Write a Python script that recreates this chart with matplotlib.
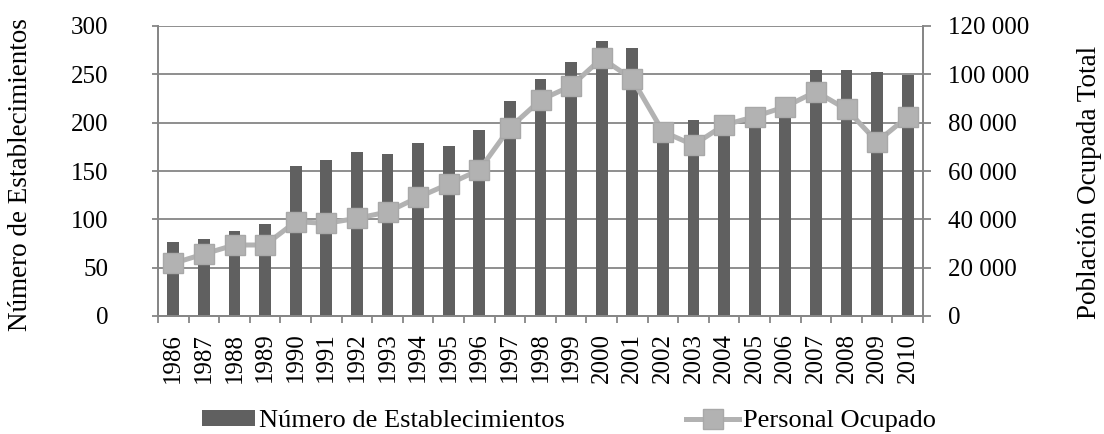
import matplotlib
matplotlib.use("Agg")
import matplotlib.pyplot as plt
from matplotlib.ticker import FuncFormatter, MultipleLocator
import numpy as np

plt.rcParams['font.family'] = ['Liberation Serif', 'DejaVu Serif']

years = [str(y) for y in range(1986, 2011)]
establecimientos = [77, 80, 88, 95, 155, 161, 170, 168, 179, 176, 192, 222, 245,
                    263, 284, 277, 189, 203, 200, 205, 215, 255, 255, 252, 249]
personal = [21800, 25650, 29380, 29380, 39030, 38350, 40420, 43030, 49100, 54620,
            60410, 77930, 89380, 95170, 106630, 98070, 76280, 70760, 79030, 82480,
            86620, 92830, 85520, 72140, 82480]

bar_col = '#606060'
line_col = '#b2b2b2'
axis_col = '#868686'

fig = plt.figure(figsize=(11.04, 4.34), dpi=100)
ax = fig.add_axes([158/1104, 1-316/434, (923-158)/1104, (316-26)/434])
x = np.arange(len(years))

ax.bar(x, establecimientos, width=0.39, color=bar_col, zorder=2,
       label='Número de Establecimientos')
ax.set_ylim(0, 300)
ax.set_xlim(-0.5, len(years) - 0.5)
ax.yaxis.set_major_locator(MultipleLocator(50))
ax.grid(axis='y', color=axis_col, linewidth=1.3, zorder=0)
ax.set_axisbelow(True)
ax.set_xticks(x)
ax.set_xticklabels(years, rotation=90)
ax.set_xticks(np.arange(-0.5, len(years)), minor=True)
ax.tick_params(axis='x', which='major', length=0, labelsize=18, pad=12)
ax.tick_params(axis='x', which='minor', length=5, color=axis_col, width=1.3)
ax.tick_params(axis='y', length=4.5, color=axis_col, width=1.3, labelsize=18, pad=31)
for s in ['left', 'bottom', 'right', 'top']:
    ax.spines[s].set_color(axis_col)
    ax.spines[s].set_linewidth(1.3)
ax.spines['top'].set_visible(False)
ax.set_ylabel('Número de Establecimientos', fontsize=19.5)
ax.yaxis.set_label_coords(-0.1634, 0.486)

ax2 = ax.twinx()
ax2.plot(x, personal, color=line_col, linewidth=3.6, marker='s', markersize=14,
         markerfacecolor=line_col, markeredgecolor='#a8a8a8', zorder=3,
         label='Personal Ocupado')
ax2.set_ylim(0, 120000)
ax2.yaxis.set_major_locator(MultipleLocator(20000))
ax2.yaxis.set_major_formatter(FuncFormatter(lambda v, p: f'{int(v):,}'.replace(',', ' ')))
ax2.tick_params(axis='y', length=6, color=axis_col, width=1.3, labelsize=18, pad=12)
for s in ['left', 'bottom', 'right', 'top']:
    ax2.spines[s].set_color(axis_col)
    ax2.spines[s].set_linewidth(1.3)
ax2.spines['top'].set_visible(False)
ax2.set_ylabel('Población Ocupada Total', fontsize=19.5)
ax2.yaxis.set_label_coords(1.2013, 0.459)

h1, l1 = ax.get_legend_handles_labels()
h2, l2 = ax2.get_legend_handles_labels()
fig.legend(h1 + h2, l1 + l2, loc='center', bbox_to_anchor=(569/1104, 1-421/434),
           ncol=2, frameon=False, fontsize=19, handlelength=2.0, handletextpad=0.15,
           columnspacing=4.6, handleheight=0.6, borderpad=0)

fig.savefig('out.png', dpi=100)
